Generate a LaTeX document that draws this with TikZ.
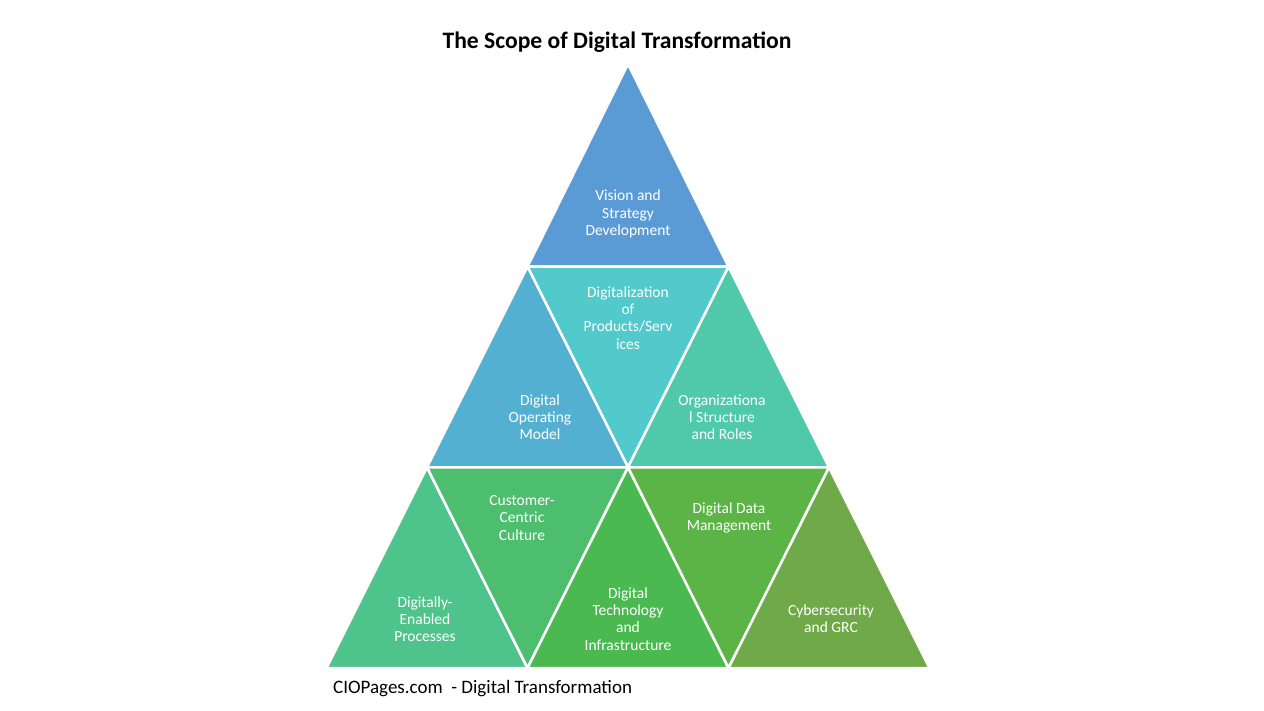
\documentclass[tikz,border=0pt]{standalone}
\usepackage{fontspec}
\setmainfont{Carlito}
\usepackage{tikz}
\usetikzlibrary{calc,positioning}
\definecolor{visionblue}{RGB}{91,155,213}
\definecolor{digiteal}{RGB}{82,202,204}
\definecolor{opblue}{RGB}{84,176,208}
\definecolor{orgteal}{RGB}{80,200,170}
\definecolor{procgreen}{RGB}{78,196,140}
\definecolor{custgreen}{RGB}{76,190,110}
\definecolor{techgreen}{RGB}{74,185,80}
\definecolor{datagreen}{RGB}{92,180,70}
\definecolor{cybergreen}{RGB}{112,170,72}
\tikzset{
  tri/.style={draw=white, line width=2.5pt, line join=miter},
  lbl/.style={text=white, align=center, inner sep=0pt,
    font=\fontsize{15.5}{17.3}\selectfont}
}

\begin{document}
\begin{tikzpicture}[x=1pt, y=-1pt]
          \useasboundingbox (0,0) rectangle (1264,711);

          \coordinate (a) at (628, 64);
          \coordinate (b0) at (527.5, 266.7);
          \coordinate (b1) at (728.5, 266.7);
          \coordinate (c0) at (427, 467.3);
          \coordinate (c1) at (628, 467.3);
          \coordinate (c2) at (829, 467.3);
          \coordinate (d0) at (326.5, 668);
          \coordinate (d1) at (527.5, 668);
          \coordinate (d2) at (728.5, 668);
          \coordinate (d3) at (929.5, 668);

          \filldraw[tri, fill=visionblue] (a) -- (b0) -- (b1) -- cycle;
          \filldraw[tri, fill=digiteal] (b0) -- (b1) -- (c1) -- cycle;
          \filldraw[tri, fill=opblue] (b0) -- (c0) -- (c1) -- cycle;
          \filldraw[tri, fill=orgteal] (b1) -- (c1) -- (c2) -- cycle;
          \filldraw[tri, fill=procgreen] (c0) -- (d0) -- (d1) -- cycle;
          \filldraw[tri, fill=custgreen] (c0) -- (c1) -- (d1) -- cycle;
          \filldraw[tri, fill=techgreen] (c1) -- (d1) -- (d2) -- cycle;
          \filldraw[tri, fill=datagreen] (c1) -- (c2) -- (d2) -- cycle;
          \filldraw[tri, fill=cybergreen] (c2) -- (d2) -- (d3) -- cycle;

          \node[font=\fontsize{23.6}{27}\selectfont\bfseries] (title) at (617, 42) {The Scope of Digital Transformation};

          \node[lbl] (vision) at (628, 214) {Vision and\\Strategy\\Development};
          \node[lbl] (digit) at (628, 318) {Digitalization\\of\\Products/Serv\\ices};
          \node[lbl] (opmodel) at (540, 417) {Digital\\Operating\\Model};
          \node[lbl] (orgroles) at (722, 417) {Organizationa\\l Structure\\and Roles};
          \node[lbl] (custcult) at (522, 518) {Customer-\\Centric\\Culture};
          \node[lbl] (datamgmt) at (729, 518) {Digital Data\\Management};
          \node[lbl] (processes) at (425, 619) {Digitally-\\Enabled\\Processes};
          \node[lbl] (techinfra) at (628, 619) {Digital\\Technology\\and\\Infrastructure};
          \node[lbl] (cyber) at (831, 619) {Cybersecurity\\and GRC};

          \node[anchor=west, inner sep=0pt, font=\fontsize{19}{22}\selectfont] (footer) at (333, 689) {CIOPages.com\ \ - Digital Transformation};
        \end{tikzpicture}
\end{document}
